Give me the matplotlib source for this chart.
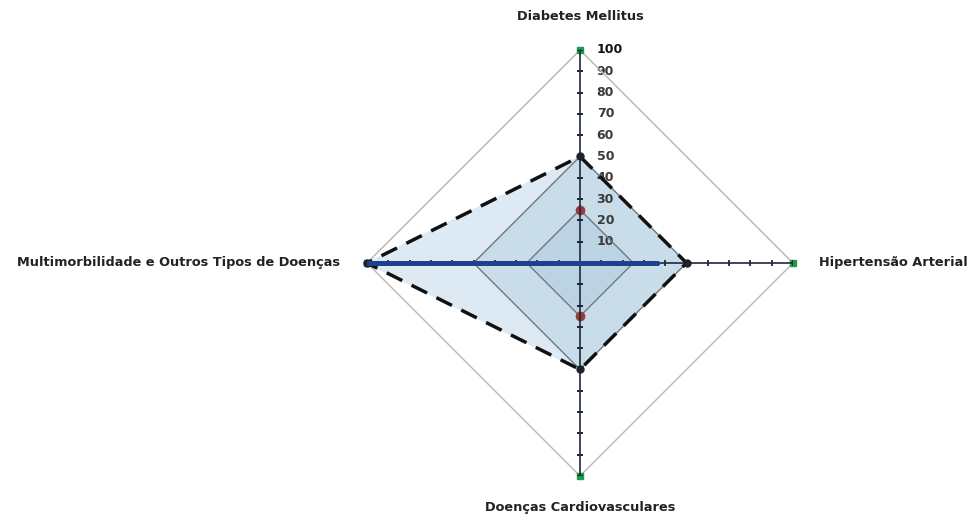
import numpy as np
from matplotlib import pyplot as plt

categories = ['Diabetes Mellitus', 'Hipertensão Arterial',
              'Doenças Cardiovasculares',
              'Multimorbilidade e Outros Tipos de Doenças']
scale_max = [100, 100, 100, 100]
dashed_vals = [50, 50, 50, 100]
mid_vals = [50, 50, 50, 50]
inner_vals = [25, 25, 25, 25]
blue_vals = [0, 36, 0, 100]
tick_values = [10, 20, 30, 40, 50, 60, 70, 80, 90, 100]

theta = np.deg2rad([0, 90, 180, 270])


def closed(vals):
    return np.r_[theta, theta[0]], np.r_[vals, vals[0]]


fig = plt.figure(figsize=(9.74, 5.21), dpi=100)
ax = fig.add_axes([0.3768, 0.0864, 0.4374, 0.8177], projection='polar')
ax.set_theta_zero_location('N')
ax.set_theta_direction(-1)
ax.set_ylim(0, 100)
ax.grid(False)
ax.set_xticks([])
ax.set_yticks([])
ax.spines['polar'].set_visible(False)
ax.patch.set_alpha(0)

# fills
t, r = closed(dashed_vals)
ax.fill(t, r, color='#dde9f3', zorder=1)
t, r = closed(mid_vals)
ax.fill(t, r, color='#c8dcea', zorder=2)
t, r = closed(inner_vals)
ax.fill(t, r, color='#bcd3e4', zorder=3)

# grid-like series outlines
t, r = closed(scale_max)
ax.plot(t, r, color='#b5b5b5', lw=1.0, zorder=4)
t, r = closed(mid_vals)
ax.plot(t, r, color='#6f7a80', lw=1.0, zorder=4)
t, r = closed(inner_vals)
ax.plot(t, r, color='#6f7a80', lw=1.0, zorder=4)

# markers below the series lines (side ones hidden under the blue line)
ax.plot(theta, scale_max, ls='none', marker='s', ms=5, color='#1f9a4e',
        zorder=4.5, clip_on=False)
ax.plot(theta, inner_vals, ls='none', marker='o', ms=6, color='#9a3a3a',
        markevery=[0, 2], zorder=4.5)

# axes with tick marks
for i, th in enumerate(theta):
    ax.plot([th, th], [0, 100], color='#1e2a3a', lw=1.2, zorder=5)
    mk = '_' if i % 2 == 0 else '|'
    ax.plot([th] * len(tick_values), tick_values, ls='none', marker=mk,
            ms=5, mew=1.3, color='#1e2a3a', zorder=5)

# dashed series
t, r = closed(dashed_vals)
ax.plot(t, r, color='#111111', lw=2.5, ls=(0, (5, 3)), zorder=6)
ax.plot(theta, dashed_vals, ls='none', marker='o', ms=5, color='#1c2228',
        zorder=7, clip_on=False)

# blue series
t, r = closed(blue_vals)
ax.plot(t, r, color='#1f3f8f', lw=3.6, zorder=8, solid_capstyle='butt')

# tick labels on the top axis
for v in tick_values:
    ax.annotate(str(v), xy=(0, v), xytext=(12, 0), textcoords='offset points',
                ha='left', va='center', fontsize=9, fontweight='bold',
                color='#111111' if v == 100 else '#3a3a3a',
                annotation_clip=False)

# category labels
lab = dict(fontsize=9.3, fontweight='bold', color='#222222')
ax.text(theta[0], 115.5, categories[0], ha='center', va='center', **lab)
ax.text(theta[1], 112, categories[1], ha='left', va='center', **lab)
ax.text(theta[2], 115, categories[2], ha='center', va='center', **lab)
ax.text(theta[3], 112.7, categories[3], ha='right', va='center', **lab)

fig.savefig('out.png', dpi=100)
